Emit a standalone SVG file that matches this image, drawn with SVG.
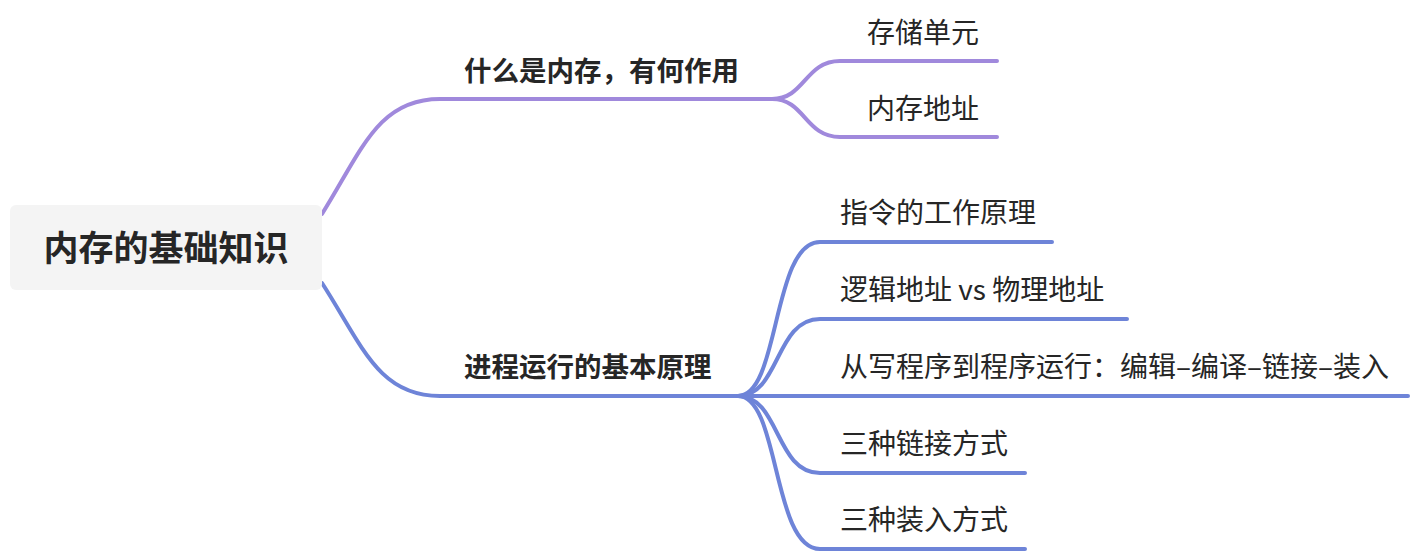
<svg xmlns="http://www.w3.org/2000/svg" width="1418" height="554" viewBox="0 0 1418 554">
<style>
text{font-family:"Noto Sans CJK SC","Noto Sans",sans-serif;fill:#262626}
.root{font-size:35px;font-weight:bold}
.br{font-size:27.5px;font-weight:bold}
.lf{font-size:28px}
.p{fill:none;stroke:#a089dc;stroke-width:4;stroke-linecap:round}
.b{fill:none;stroke:#6e84d8;stroke-width:4;stroke-linecap:round}
</style>
<rect width="1418" height="554" fill="#ffffff"/>
<g id="connectors">
<path class="p" d="M322,214 C362,150 378,99 440,99 L778,99"/>
<path class="p" d="M772,99 C805,99 805,61 840,61 L997,61"/>
<path class="p" d="M772,99 C805,99 805,137 840,137 L997,137"/>
<path class="b" d="M322,283 C362,345 378,396 440,396 L745,396"/>
<path class="b" d="M738,396 C780,396 772,242 820,242 L1052,242"/>
<path class="b" d="M738,396 C780,396 775,319 820,319 L1127,319"/>
<path class="b" d="M738,396 L1408,396"/>
<path class="b" d="M738,396 C780,396 775,473 820,473 L1025,473"/>
<path class="b" d="M738,396 C780,396 772,549 820,549 L1025,549"/>
</g>
<g id="root">
<rect x="10" y="205" width="312" height="85" rx="6" fill="#f4f4f4"/>
<text class="root" x="166" y="261" text-anchor="middle">内存的基础知识</text>
</g>
<g id="n1"><text class="br" x="464" y="81">什么是内存，有何作用</text></g>
<g id="n1a"><text class="lf" x="867" y="43">存储单元</text></g>
<g id="n1b"><text class="lf" x="867" y="119">内存地址</text></g>
<g id="n2"><text class="br" x="464" y="377">进程运行的基本原理</text></g>
<g id="n2a"><text class="lf" x="840" y="223">指令的工作原理</text></g>
<g id="n2b"><text class="lf" x="840" y="300">逻辑地址 vs 物理地址</text></g>
<g id="n2c"><text class="lf" x="840" y="377">从写程序到程序运行：编辑–编译–链接–装入</text></g>
<g id="n2d"><text class="lf" x="840" y="454">三种链接方式</text></g>
<g id="n2e"><text class="lf" x="840" y="530">三种装入方式</text></g>
</svg>
